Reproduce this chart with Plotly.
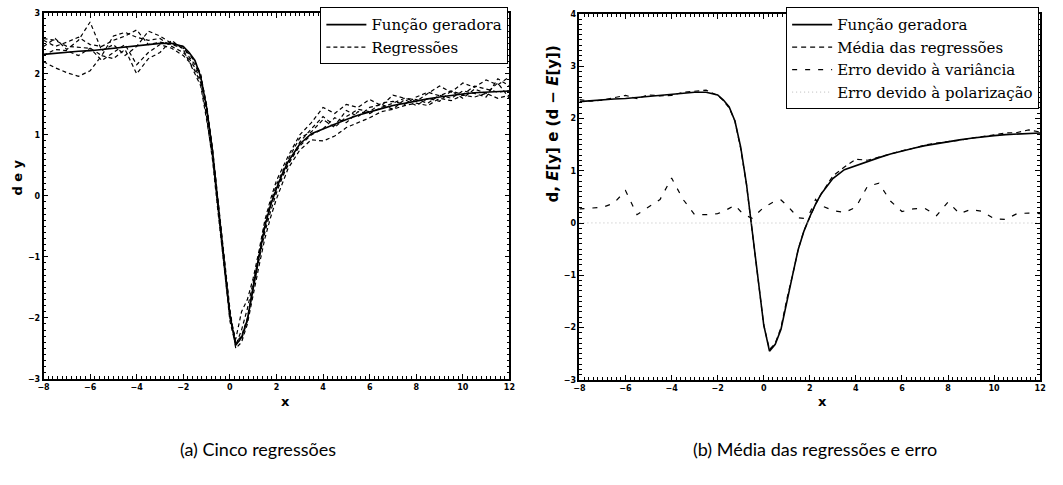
import plotly.graph_objects as go

# ---------------- data ----------------
X = [-8, -7.5, -7, -6.5, -6, -5.5, -5, -4.5, -4, -3.5, -3, -2.5, -2,
     -1.75, -1.5, -1.25, -1, -0.75, -0.5, -0.25, 0, 0.25, 0.5, 0.75, 1, 1.25,
     1.5, 1.75, 2, 2.25, 2.5,
     3, 3.5, 4, 4.5, 5, 5.5, 6, 6.5, 7, 7.5, 8, 8.5, 9, 9.5, 10, 10.5, 11, 11.5, 12]

geradora = [2.32, 2.34, 2.35, 2.37, 2.38, 2.40, 2.42, 2.44, 2.46, 2.48, 2.50, 2.50, 2.45,
            2.35, 2.22, 1.95, 1.45, 0.75, -0.15, -1.05, -1.95, -2.45, -2.32, -2.03, -1.48, -1.00,
            -0.50, -0.15, 0.12, 0.36, 0.56,
            0.85, 1.02, 1.10, 1.18, 1.25, 1.32, 1.38, 1.43, 1.48, 1.52, 1.56, 1.59, 1.62, 1.65,
            1.67, 1.69, 1.70, 1.71, 1.72]

reg1 = [2.58, 2.55, 2.45, 2.44, 2.42, 2.30, 2.62, 2.68, 2.60, 2.55, 2.58, 2.45, 2.35,
        2.25, 2.10, 1.90, 1.40, 0.70, -0.20, -1.10, -1.95, -2.40, -2.30, -2.00, -1.45, -0.95,
        -0.45, -0.10, 0.18, 0.40, 0.60,
        0.95, 1.05, 1.25, 1.12, 1.30, 1.42, 1.38, 1.52, 1.55, 1.50, 1.62, 1.70, 1.64, 1.72,
        1.66, 1.80, 1.75, 1.70, 1.72]
reg2 = [2.20, 2.10, 2.02, 1.96, 2.05, 2.30, 2.25, 2.40, 2.00, 2.25, 2.35, 2.55, 2.40,
        2.20, 2.05, 1.85, 1.30, 0.60, -0.30, -1.20, -2.00, -2.35, -1.90, -1.70, -1.35, -0.90,
        -0.40, -0.05, 0.25, 0.45, 0.65,
        1.00, 1.20, 1.45, 1.35, 1.50, 1.45, 1.58, 1.48, 1.65, 1.60, 1.55, 1.68, 1.80, 1.70,
        1.85, 1.78, 1.90, 1.82, 1.95]
reg3 = [2.45, 2.58, 2.40, 2.55, 2.85, 2.38, 2.48, 2.30, 2.45, 2.70, 2.62, 2.50, 2.45,
        2.28, 2.15, 1.95, 1.50, 0.80, -0.10, -1.00, -1.85, -2.50, -2.40, -2.10, -1.60, -1.15,
        -0.70, -0.35, -0.05, 0.20, 0.45,
        0.75, 0.92, 0.90, 0.98, 1.12, 1.20, 1.28, 1.38, 1.42, 1.48, 1.52, 1.48, 1.60, 1.56,
        1.65, 1.62, 1.68, 1.60, 1.65]
reg4 = [2.30, 2.40, 2.38, 2.30, 2.42, 2.22, 2.35, 2.48, 2.15, 2.35, 2.48, 2.42, 2.30,
        2.20, 2.00, 1.80, 1.25, 0.65, -0.25, -1.15, -2.05, -2.45, -2.20, -1.85, -1.40, -0.95,
        -0.55, -0.15, 0.10, 0.35, 0.50,
        0.88, 1.10, 1.30, 1.15, 1.40, 1.30, 1.45, 1.50, 1.42, 1.58, 1.48, 1.60, 1.55, 1.72,
        1.60, 1.75, 1.68, 1.85, 1.60]
reg5 = [2.55, 2.45, 2.52, 2.60, 2.48, 2.45, 2.55, 2.62, 2.72, 2.48, 2.52, 2.48, 2.42,
        2.32, 2.20, 2.00, 1.45, 0.75, -0.15, -1.05, -1.90, -2.42, -2.35, -2.05, -1.50, -1.05,
        -0.60, -0.25, 0.05, 0.30, 0.52,
        0.82, 1.00, 1.10, 1.28, 1.20, 1.38, 1.35, 1.45, 1.52, 1.60, 1.58, 1.52, 1.65, 1.60,
        1.72, 1.68, 1.62, 1.92, 1.80]
regressoes = [reg1, reg2, reg3, reg4, reg5]

media = [2.36, 2.33, 2.35, 2.40, 2.44, 2.38, 2.45, 2.43, 2.44, 2.50, 2.52, 2.54, 2.44,
         2.34, 2.20, 1.95, 1.42, 0.74, -0.16, -1.06, -1.95, -2.42, -2.30, -2.00, -1.46, -1.00,
         -0.50, -0.14, 0.12, 0.36, 0.56,
         0.90, 1.07, 1.22, 1.20, 1.26, 1.33, 1.38, 1.43, 1.49, 1.53, 1.55, 1.58, 1.62, 1.65,
         1.69, 1.72, 1.73, 1.78, 1.74]

erro_variancia = [0.27, 0.29, 0.30, 0.38, 0.62, 0.16, 0.30, 0.45, 0.86, 0.45, 0.16, 0.16, 0.18,
                  0.22, 0.28, 0.34, 0.22, 0.14, 0.09, 0.20, 0.30, 0.36, 0.42, 0.44, 0.34, 0.22,
                  0.10, 0.09, 0.19, 0.45, 0.33,
                  0.24, 0.20, 0.30, 0.70, 0.76, 0.42, 0.22, 0.27, 0.28, 0.14, 0.40, 0.18, 0.26, 0.22,
                  0.08, 0.07, 0.18, 0.19, 0.18]

erro_polarizacao = [0.002, 0.000, 0.000, 0.001, 0.004, 0.000, 0.001, 0.000, 0.000, 0.000, 0.000, 0.002, 0.000,
                    0.000, 0.000, 0.000, 0.001, 0.000, 0.000, 0.000, 0.000, 0.001, 0.000, 0.001, 0.000, 0.000,
                    0.000, 0.000, 0.000, 0.000, 0.000,
                    0.003, 0.003, 0.014, 0.000, 0.000, 0.000, 0.000, 0.000, 0.000, 0.000, 0.000, 0.000, 0.000, 0.000,
                    0.001, 0.001, 0.001, 0.005, 0.000]

x_tick_step = 2
y_tick_step = 1
x_range = [-8, 12]
y_range_a = [-3, 3]
y_range_b = [-3, 4]

# ---------------- figure ----------------
fig = go.Figure()

# (a)
fig.add_trace(go.Scatter(x=X, y=geradora, mode="lines", name="Função geradora",
                         line=dict(color="black", width=1.6), xaxis="x", yaxis="y",
                         legend="legend"))
for i, r in enumerate(regressoes):
    fig.add_trace(go.Scatter(x=X, y=r, mode="lines", name="Regressões",
                             showlegend=(i == 0),
                             line=dict(color="black", width=1.2, dash="4px,3px"),
                             xaxis="x", yaxis="y", legend="legend"))

# (b)
fig.add_trace(go.Scatter(x=X, y=geradora, mode="lines", name="Função geradora",
                         line=dict(color="black", width=1.6), xaxis="x2", yaxis="y2",
                         legend="legend2"))
fig.add_trace(go.Scatter(x=X, y=media, mode="lines", name="Média das regressões",
                         line=dict(color="black", width=1.2, dash="5px,4px"),
                         xaxis="x2", yaxis="y2", legend="legend2"))
fig.add_trace(go.Scatter(x=X, y=erro_variancia, mode="lines", name="Erro devido à variância",
                         line=dict(color="black", width=1.2, dash="5px,8px"),
                         xaxis="x2", yaxis="y2", legend="legend2"))
fig.add_trace(go.Scatter(x=X, y=erro_polarizacao, mode="lines", name="Erro devido à polarização",
                         line=dict(color="#bbbbbb", width=1, dash="1px,3px"),
                         xaxis="x2", yaxis="y2", legend="legend2"))

tickfont = dict(family="DejaVu Sans", size=8, color="black", weight="bold")
common_x = dict(range=x_range, tickmode="linear", tick0=x_range[0], dtick=x_tick_step,
                ticks="inside", ticklen=5,
                tickcolor="black", showline=True, linecolor="black", linewidth=1.5,
                mirror="ticks", showgrid=False, zeroline=False, tickfont=tickfont,
                minor=dict(ticks="inside", ticklen=3, dtick=0.2, tickcolor="black",
                           tickwidth=1, showgrid=False))
common_y = dict(tickmode="linear", dtick=y_tick_step, ticks="inside", ticklen=5,
                tickcolor="black", showline=True,
                linecolor="black", linewidth=1.5, mirror="ticks", showgrid=False,
                zeroline=False, tickfont=tickfont,
                minor=dict(ticks="inside", ticklen=3, dtick=0.1, tickcolor="black",
                           tickwidth=1, showgrid=False))

legend_font = dict(family="DejaVu Serif", size=15, color="black")

fig.update_layout(
    width=1063, height=485,
    margin=dict(l=0, r=0, t=0, b=0),
    paper_bgcolor="white", plot_bgcolor="white",
    xaxis=dict(domain=[0.0357, 0.479], anchor="y", **common_x),
    yaxis=dict(domain=[0.2124, 0.9814], anchor="x", range=y_range_a, tick0=-3, **common_y),
    xaxis2=dict(domain=[0.5456, 0.984], anchor="y2", **common_x),
    yaxis2=dict(domain=[0.2103, 0.9794], anchor="x2", range=y_range_b, tick0=-3, **common_y),
    legend=dict(x=0.478, xanchor="right", y=0.993, yanchor="top",
                bordercolor="black", borderwidth=1, bgcolor="white",
                font=legend_font, tracegroupgap=0, itemwidth=40),
    legend2=dict(x=0.983, xanchor="right", y=0.993, yanchor="top",
                 bordercolor="black", borderwidth=1, bgcolor="white",
                 font=legend_font, tracegroupgap=0, itemwidth=40),
    showlegend=True,
    annotations=[
        dict(text="<b>x</b>", x=283 / 1063, y=1 - 405 / 485, xref="paper", yref="paper",
             xanchor="center", yanchor="middle", showarrow=False,
             font=dict(family="DejaVu Sans", size=13, color="black")),
        dict(text="<b>x</b>", x=826 / 1063, y=1 - 405 / 485, xref="paper", yref="paper",
             xanchor="center", yanchor="middle", showarrow=False,
             font=dict(family="DejaVu Sans", size=13, color="black")),
        dict(text="<b>d e y</b>", x=12 / 1063, y=1 - 177 / 485, xref="paper", yref="paper",
             xanchor="center", yanchor="middle", textangle=-90, showarrow=False,
             font=dict(family="DejaVu Sans", size=13, color="black")),
        dict(text="<b>d, <i>E</i>[y] e (d − <i>E</i>[y])</b>", x=553 / 1063, y=1 - 122 / 485,
             xref="paper", yref="paper", xanchor="center", yanchor="middle",
             textangle=-90, showarrow=False,
             font=dict(family="DejaVu Sans", size=15, color="black")),
        dict(text="(a) Cinco regressões", x=255 / 1063, y=1 - 453 / 485, xref="paper",
             yref="paper", xanchor="center", yanchor="middle", showarrow=False,
             font=dict(family="Lato", size=18, color="black")),
        dict(text="(b) Média das regressões e erro", x=818 / 1063, y=1 - 453 / 485,
             xref="paper", yref="paper", xanchor="center", yanchor="middle", showarrow=False,
             font=dict(family="Lato", size=18, color="black")),
    ],
)

fig.write_html("out.html")
